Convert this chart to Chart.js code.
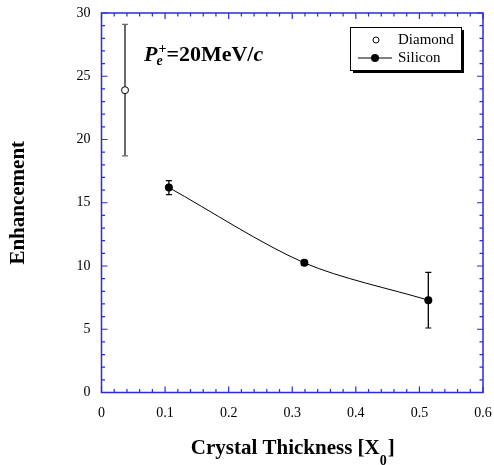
<!DOCTYPE html>
<html>
<head>
<meta charset="utf-8">
<script src="https://cdn.jsdelivr.net/npm/chart.js@4.4.0/dist/chart.umd.min.js"></script>
<style>
    html, body { margin: 0; padding: 0; background: #fff; }
    #wrap { width: 494px; height: 465px; }
</style>
</head>
<body>
<div id="wrap"><canvas id="chart" width="494" height="465"></canvas></div>
<script>
// Data
const diamondX = [0.037];
const diamondY = [23.9];
const diamondErr = [5.2];

const siliconX = [0.106, 0.319, 0.514];
const siliconY = [16.2, 10.25, 7.3];
const siliconErr = [0.55, 0.2, 2.2];

const xTickValues = [0, 0.1, 0.2, 0.3, 0.4, 0.5, 0.6];
const xTickLabels = ['0', '0.1', '0.2', '0.3', '0.4', '0.5', '0.6'];
const yTickValues = [0, 5, 10, 15, 20, 25, 30];
const yTickLabels = ['0', '5', '10', '15', '20', '25', '30'];

const SERIF = '"Liberation Serif", "DejaVu Serif", serif';
const AXIS_BLUE = '#2b2bdc';

function toPoints(xs, ys) {
    return xs.map((x, i) => ({ x: x, y: ys[i] }));
}

// Error bars drawn through the scales
const errorBars = {
    id: 'errorBars',
    beforeDatasetsDraw(chart) {
        const ctx = chart.ctx;
        const xs = chart.scales.x, ys = chart.scales.y;
        chart.data.datasets.forEach(ds => {
            if (!ds.errors) return;
            ctx.save();
            ctx.strokeStyle = ds.errorColor;
            ds.data.forEach((p, i) => {
                const px = xs.getPixelForValue(p.x);
                const top = ys.getPixelForValue(p.y + ds.errors[i]);
                const bot = ys.getPixelForValue(p.y - ds.errors[i]);
                ctx.lineWidth = ds.errorWidth;
                ctx.beginPath();
                ctx.moveTo(px, top);
                ctx.lineTo(px, bot);
                ctx.stroke();
                ctx.lineWidth = 1.2;
                ctx.beginPath();
                ctx.moveTo(px - 3, top);
                ctx.lineTo(px + 3, top);
                ctx.moveTo(px - 3, bot);
                ctx.lineTo(px + 3, bot);
                ctx.stroke();
            });
            ctx.restore();
        });
    }
};

// Frame with inward ticks on all four sides
const frameTicks = {
    id: 'frameTicks',
    afterDraw(chart) {
        const ctx = chart.ctx;
        const a = chart.chartArea;
        const xs = chart.scales.x, ys = chart.scales.y;
        ctx.save();
        ctx.strokeStyle = AXIS_BLUE;
        ctx.lineWidth = 1.5;
        ctx.strokeRect(a.left, a.top, a.right - a.left, a.bottom - a.top);
        ctx.lineWidth = 1.2;
        ctx.beginPath();
        for (let i = 0; i <= 30; i++) {
            const len = (i % 5 === 0) ? 6 : 3.5;
            const py = ys.getPixelForValue(i);
            ctx.moveTo(a.left, py); ctx.lineTo(a.left + len, py);
            ctx.moveTo(a.right, py); ctx.lineTo(a.right - len, py);
        }
        for (let i = 0; i <= 30; i++) {
            const len = (i % 5 === 0) ? 6 : 3.5;
            const px = xs.getPixelForValue(i * 0.02);
            ctx.moveTo(px, a.bottom); ctx.lineTo(px, a.bottom - len);
            ctx.moveTo(px, a.top); ctx.lineTo(px, a.top + len);
        }
        ctx.stroke();
        ctx.restore();
    }
};

// Axis titles, annotation and boxed legend
const labelsPlugin = {
    id: 'labelsPlugin',
    afterDraw(chart) {
        const ctx = chart.ctx;
        const a = chart.chartArea;
        ctx.save();
        ctx.fillStyle = '#000';
        ctx.textBaseline = 'alphabetic';

        // y title
        ctx.save();
        ctx.translate(24, (a.top + a.bottom) / 2);
        ctx.rotate(-Math.PI / 2);
        ctx.font = 'bold 21px ' + SERIF;
        ctx.textAlign = 'center';
        ctx.fillText('Enhancement', 0, 0);
        ctx.restore();

        // x title with subscript
        ctx.font = 'bold 21px ' + SERIF;
        const main = 'Crystal Thickness [X';
        const wMain = ctx.measureText(main).width;
        ctx.font = 'bold 14px ' + SERIF;
        const wSub = ctx.measureText('0').width;
        ctx.font = 'bold 21px ' + SERIF;
        const wEnd = ctx.measureText(']').width;
        let x0 = (a.left + a.right) / 2 - (wMain + wSub + wEnd) / 2;
        ctx.textAlign = 'left';
        ctx.fillText(main, x0, 454);
        ctx.font = 'bold 14px ' + SERIF;
        ctx.fillText('0', x0 + wMain, 465);
        ctx.font = 'bold 21px ' + SERIF;
        ctx.fillText(']', x0 + wMain + wSub + 1, 454);

        // annotation P_e^+ = 20MeV/c
        let tx = 144;
        const base = 61;
        ctx.font = 'italic bold 22px ' + SERIF;
        ctx.fillText('P', tx, base);
        tx += ctx.measureText('P').width - 1;
        ctx.font = 'italic bold 14px ' + SERIF;
        ctx.fillText('e', tx, base + 4);
        const wE = ctx.measureText('e').width;
        ctx.font = 'bold 14px ' + SERIF;
        ctx.fillText('+', tx + 2, base - 8);
        tx += Math.max(wE, ctx.measureText('+').width + 2);
        ctx.font = 'bold 22px ' + SERIF;
        ctx.fillText('=20MeV/', tx, base);
        tx += ctx.measureText('=20MeV/').width;
        ctx.font = 'italic bold 22px ' + SERIF;
        ctx.fillText('c', tx, base);

        // legend box with shadow
        const bx = 350, by = 27, bw = 111, bh = 43;
        ctx.fillStyle = '#000';
        ctx.fillRect(bx + 3, by + 3, bw, bh);
        ctx.fillStyle = '#fff';
        ctx.fillRect(bx, by, bw, bh);
        ctx.strokeStyle = '#000';
        ctx.lineWidth = 1;
        ctx.strokeRect(bx + 0.5, by + 0.5, bw, bh);

        const ds = chart.data.datasets;
        ctx.font = '15px ' + SERIF;
        ctx.fillStyle = '#000';
        ctx.textBaseline = 'middle';
        // Diamond row
        ctx.beginPath();
        ctx.arc(376, 40, 3, 0, Math.PI * 2);
        ctx.fillStyle = '#fff';
        ctx.fill();
        ctx.lineWidth = 1;
        ctx.strokeStyle = '#000';
        ctx.stroke();
        ctx.fillStyle = '#000';
        ctx.fillText(ds[0].label, 398, 40);
        // Silicon row
        ctx.beginPath();
        ctx.moveTo(358, 58);
        ctx.lineTo(392, 58);
        ctx.stroke();
        ctx.beginPath();
        ctx.arc(375, 58, 4, 0, Math.PI * 2);
        ctx.fill();
        ctx.fillText(ds[1].label, 398, 58);

        ctx.restore();
    }
};

const ctx = document.getElementById('chart').getContext('2d');
const chart = new Chart(ctx, {
    type: 'scatter',
    data: {
        datasets: [
            {
                label: 'Diamond',
                data: toPoints(diamondX, diamondY),
                errors: diamondErr,
                errorColor: '#6a6a6a',
                errorWidth: 2,
                showLine: false,
                pointRadius: 3.5,
                pointBackgroundColor: '#fff',
                pointBorderColor: '#000',
                pointBorderWidth: 1
            },
            {
                label: 'Silicon',
                data: toPoints(siliconX, siliconY),
                errors: siliconErr,
                errorColor: '#000',
                errorWidth: 1.3,
                showLine: true,
                borderColor: '#000',
                borderWidth: 1,
                tension: 0.3,
                pointRadius: 4,
                pointBackgroundColor: '#000',
                pointBorderColor: '#000',
                pointBorderWidth: 0
            }
        ]
    },
    options: {
        responsive: false,
        animation: false,
        devicePixelRatio: 1,
        layout: { padding: { left: 0, right: 11, top: 13, bottom: 0 } },
        plugins: {
            legend: { display: false },
            tooltip: { enabled: false }
        },
        scales: {
            x: {
                type: 'linear',
                min: 0,
                max: 0.6,
                grid: { display: false, drawTicks: false },
                border: { display: false },
                afterBuildTicks: s => { s.ticks = xTickValues.map(v => ({ value: v })); },
                afterFit: s => { s.height = 72.5; s.paddingLeft = 0; s.paddingRight = 0; },
                ticks: {
                    padding: 12,
                    color: '#000',
                    font: { family: SERIF, size: 14 },
                    maxRotation: 0,
                    callback: (v, i) => xTickLabels[i]
                }
            },
            y: {
                type: 'linear',
                min: 0,
                max: 30,
                grid: { display: false, drawTicks: false },
                border: { display: false },
                afterBuildTicks: s => { s.ticks = yTickValues.map(v => ({ value: v })); },
                afterFit: s => { s.width = 101.5; s.paddingTop = 0; s.paddingBottom = 0; },
                ticks: {
                    padding: 11,
                    color: '#000',
                    font: { family: SERIF, size: 14 },
                    callback: (v, i) => yTickLabels[i]
                }
            }
        }
    },
    plugins: [errorBars, frameTicks, labelsPlugin]
});
</script>
</body>
</html>
